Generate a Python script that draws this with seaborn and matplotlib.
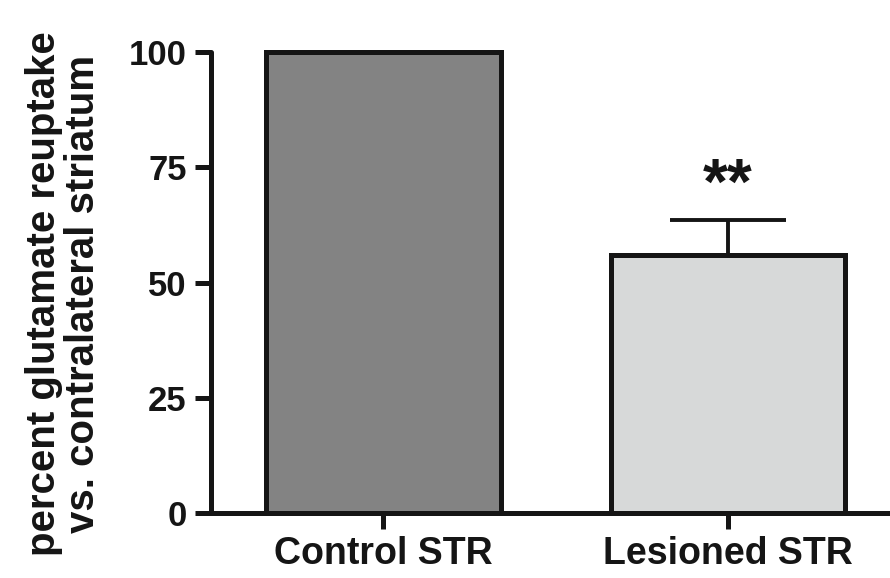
import matplotlib
matplotlib.use("Agg")
import matplotlib.pyplot as plt
import seaborn as sns
import pandas as pd
from matplotlib import font_manager

categories = ["Control STR", "Lesioned STR"]
values = [100, 56]
sem = [0, 7.5]
bar_colors = ["#838383", "#d7d9d9"]
yticks = [0, 25, 50, 75, 100]
ylabel = "percent glutamate reuptake\nvs. contralateral striatum"
sig_label = "**"

sns.set_theme(style="ticks")
avail = {f.name for f in font_manager.fontManager.ttflist}
fam = "Liberation Sans Narrow" if "Liberation Sans Narrow" in avail else "Liberation Sans"
plt.rcParams["font.family"] = [fam, "DejaVu Sans"]

df = pd.DataFrame({"group": categories, "value": values})

fig = plt.figure(figsize=(8.9, 5.78), dpi=100)
ax = fig.add_axes([211 / 890, 1 - 513 / 578, (900.5 - 211) / 890, (513 - 52) / 578])

sns.barplot(data=df, x="group", y="value", hue="group", palette=bar_colors,
            width=0.68, edgecolor="#151515", linewidth=3.6, legend=False, ax=ax,
            errorbar=None, saturation=1)
for p in ax.patches:
    p.set_clip_on(False)

ax.errorbar([1], [values[1]], yerr=[[0], [sem[1]]], fmt="none", ecolor="#151515",
            elinewidth=2.8, capsize=42, capthick=2.8, zorder=1)
ax.text(1, values[1] + sem[1] + 7.2, sig_label, ha="center", va="center",
        fontsize=46, fontweight="bold", color="#151515")

ax.set_xlim(-0.5, 1.5)
ax.set_ylim(0, 100)
ax.set_yticks(yticks)
ax.set_xlabel("")
ax.set_ylabel(ylabel, fontsize=29, fontweight="bold", color="#151515",
              linespacing=1.05)
ax.yaxis.set_label_coords(-0.158, 0.475)
for s in ["top", "right"]:
    ax.spines[s].set_visible(False)
for s in ["left", "bottom"]:
    ax.spines[s].set_linewidth(3.6)
    ax.spines[s].set_color("#151515")
    ax.spines[s].set_capstyle("round")
ax.tick_params(axis="both", length=11.5, width=3.6, color="#151515",
               labelcolor="#151515", pad=6)
ax.tick_params(axis="y", labelsize=25)
ax.tick_params(axis="x", labelsize=27, pad=5)
for lab in ax.get_xticklabels() + ax.get_yticklabels():
    lab.set_fontweight("bold")

fig.savefig("out.png", dpi=100)
